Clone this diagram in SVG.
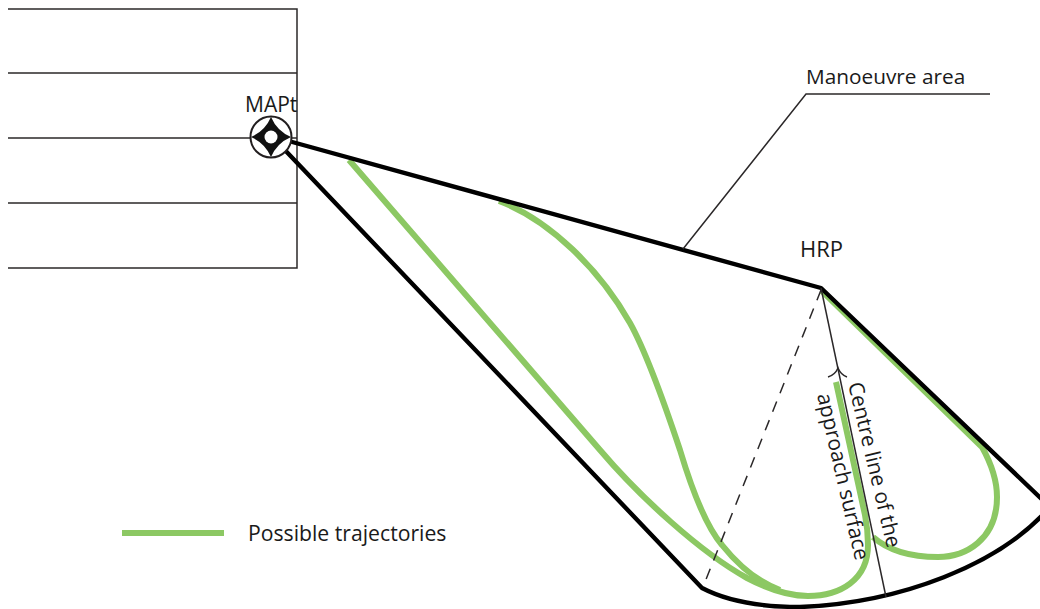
<svg xmlns="http://www.w3.org/2000/svg" width="1040" height="609" viewBox="0 0 1040 609">
<style>
text{font-family:"Open Sans","Noto Sans","Liberation Sans",sans-serif;font-size:21px;fill:#1a1a1a}
.thin{fill:none;stroke:#2b2829;stroke-width:1.5}
.thick{fill:none;stroke:#000;stroke-width:4.4;stroke-linejoin:round}
.green{fill:none;stroke:#8cc863;stroke-width:6}
</style>
<rect width="1040" height="609" fill="#fff"/>
<g id="runway">
<path class="thin" d="M8 9H297V268H8M8 73H297M8 138H297M8 203H297"/>
</g>
<g id="trajectories">
<path class="green" d="M349 160L600 450C640 497 700 552 747 578C770 590 790 596 808 596C840 596 868 580 868 545C868 535 867 525 865 515L836 382"/>
<path class="green" d="M499 201C550 220 600 270 630 323C645 350 665 405 680 450C692 490 705 525 722 545C738 565 758 582 780 590"/>
<path class="green" d="M822 291L982 447C992 465 997 480 997 497C997 540 965 557 938 557C915 557 890 552 873 537"/>
</g>
<g id="connectors">
<path class="thick" d="M285 140L821 288L1050 507C1000 565 900 603 800 607C760 607 725 600 702 588L282 147"/>
<path class="thin" d="M821 288L886 597"/>
<path class="thin" d="M828 377Q835 375 838 368Q841 375 847 377"/>
<path class="thin" stroke-dasharray="11 9" d="M821 290L703 587"/>
<path class="thin" d="M683 249L806 94H990"/>
</g>
<g id="mapt">
<circle cx="271" cy="137" r="20.500" fill="#fff" stroke="#231f20" stroke-width="2"/>
<path d="M271 117Q277 131 291 137Q277 143 271 157Q265 143 251 137Q265 131 271 117Z" fill="#111"/>
<circle cx="271" cy="137" r="6.500" fill="#fff"/>
<text x="245" y="112">MAPt</text>
</g>
<g id="hrp"><text x="800" y="257" style="font-size:22px">HRP</text></g>
<g id="labels">
<text x="806" y="84" style="font-size:20.800px">Manoeuvre area</text>
<text transform="translate(848 384) rotate(76.600)">Centre line of the</text>
<text transform="translate(817 395) rotate(77)">approach surface</text>
</g>
<g id="legend">
<path class="green" d="M122 533H224"/>
<text x="248" y="541" style="font-size:21.200px">Possible trajectories</text>
</g>
</svg>
